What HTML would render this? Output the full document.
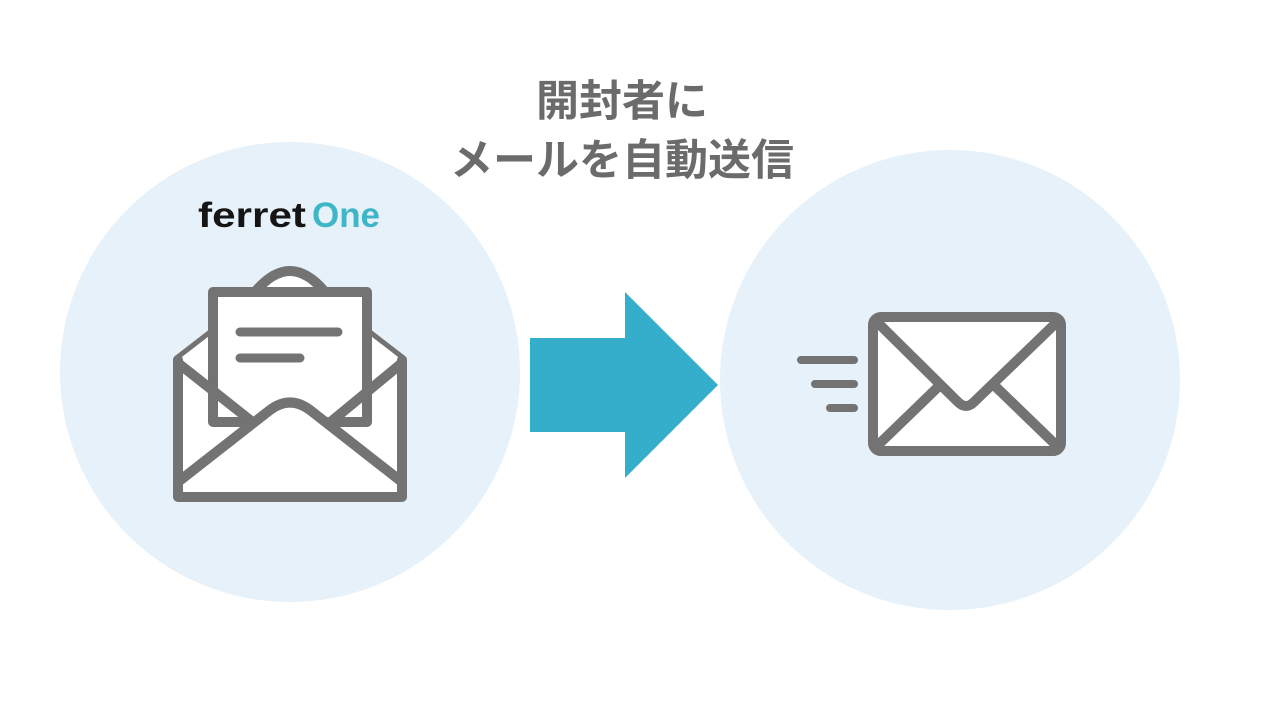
<!DOCTYPE html>
<html><head><meta charset="utf-8"><style>
html,body{margin:0;padding:0;background:#fff;}
body{width:1280px;height:720px;position:relative;overflow:hidden;}
.t{position:absolute;left:0;width:1244px;text-align:center;font-family:"Liberation Sans","Noto Sans CJK JP",sans-serif;font-weight:bold;color:#6b6b6b;font-size:43px;line-height:1;}
</style></head><body>
<svg width="1280" height="720" style="position:absolute;left:0;top:0">
<circle cx="290" cy="372" r="230" fill="#e6f1f9"/>
<circle cx="950" cy="380" r="230" fill="#e6f1f9"/>
<polygon points="530,338 625,338 625,292 718,385 625,478 625,432 530,432" fill="#35aecb"/>
<g fill="none" stroke="#737373" stroke-width="10" stroke-linejoin="round" stroke-linecap="round">
<path d="M255,292 Q290,250 325,292" fill="#fff"/>
<path d="M178,360 L213,333 M402,360 L367,333"/>
<path d="M178,360 L213,333 L213,292 L367,292 L367,333 L402,360 L402,497 L178,497 Z" fill="#fff" stroke="none"/>
<rect x="213" y="292" width="154" height="130" fill="#fff"/>
<path d="M178,360 L178,497 L402,497 L402,360"/>
<path d="M178,363 L250,420 M402,363 L333,420"/>
<path d="M178,482 L270,410 Q290,395 310,410 L402,482" fill="#fff"/>
<path d="M240,332 L338,332 M240,358 L300,358" stroke-width="9"/>
<rect x="873" y="317" width="188" height="134" rx="8" fill="#fff"/>
<path d="M877,322 L958,402 Q966,410 974,402 L1057,322"/>
<path d="M877,446 L937,388 M1057,446 L997,388"/>
<path d="M801,360 L854,360 M815,384 L854,384 M830,408 L854,408" stroke-width="8"/>
</g>
<text x="198" y="227" font-family="Liberation Sans,sans-serif" font-weight="bold" font-size="35" fill="#151515" textLength="108" lengthAdjust="spacingAndGlyphs">ferret</text>
<text x="312" y="227" font-family="Liberation Sans,sans-serif" font-weight="bold" font-size="35" fill="#3fb6c8" textLength="68" lengthAdjust="spacingAndGlyphs">One</text>
</svg>
<div class="t" style="top:81px">開封者に</div>
<div class="t" style="top:140px">メールを自動送信</div>
</body></html>
